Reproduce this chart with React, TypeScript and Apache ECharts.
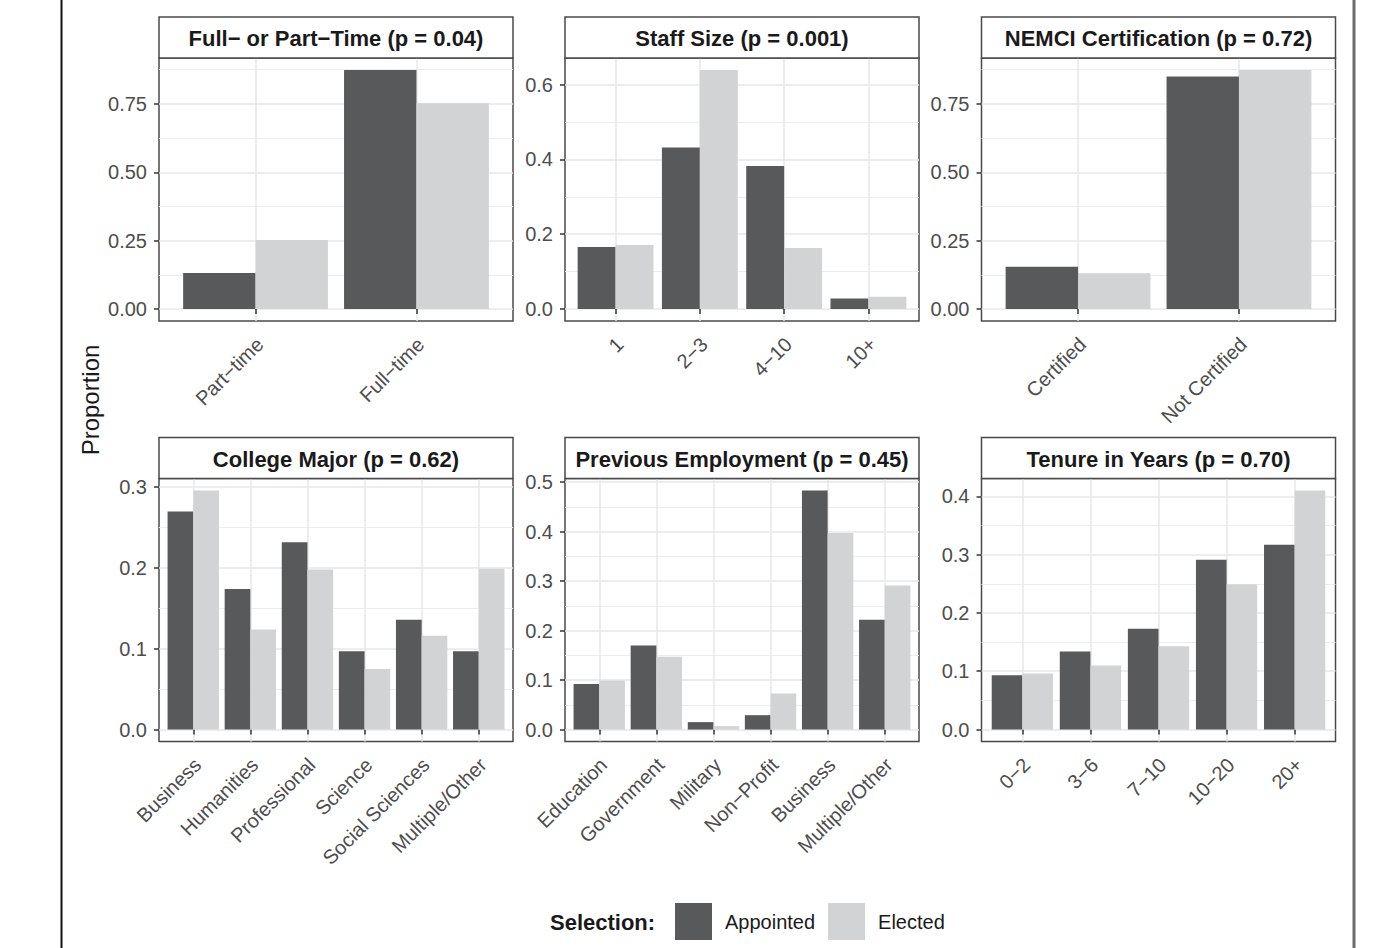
import React, { useEffect, useRef } from 'react';
import * as echarts from 'echarts';

const FONT = "'Liberation Sans', Arial, Helvetica, sans-serif";
const MINUS = '\u2212';

// ---- Full- or Part-Time ----
const fullPartTitle = `Full${MINUS} or Part${MINUS}Time (p = 0.04)`;
const fullPartCategories = [`Part${MINUS}time`, `Full${MINUS}time`];
const fullPartAppointed = [0.132, 0.874];
const fullPartElected = [0.252, 0.752];
const fullPartTicks = [0, 0.25, 0.5, 0.75];
const fullPartTickLabels = ['0.00', '0.25', '0.50', '0.75'];

// ---- Staff Size ----
const staffTitle = 'Staff Size (p = 0.001)';
const staffCategories = ['1', `2${MINUS}3`, `4${MINUS}10`, '10+'];
const staffAppointed = [0.166, 0.432, 0.382, 0.028];
const staffElected = [0.171, 0.639, 0.163, 0.033];
const staffTicks = [0, 0.2, 0.4, 0.6];
const staffTickLabels = ['0.0', '0.2', '0.4', '0.6'];

// ---- NEMCI Certification ----
const certTitle = 'NEMCI Certification (p = 0.72)';
const certCategories = ['Certified', 'Not Certified'];
const certAppointed = [0.155, 0.85];
const certElected = [0.131, 0.874];
const certTicks = [0, 0.25, 0.5, 0.75];
const certTickLabels = ['0.00', '0.25', '0.50', '0.75'];

// ---- College Major ----
const majorTitle = 'College Major (p = 0.62)';
const majorCategories = ['Business', 'Humanities', 'Professional', 'Science', 'Social Sciences', 'Multiple/Other'];
const majorAppointed = [0.27, 0.174, 0.232, 0.097, 0.136, 0.097];
const majorElected = [0.296, 0.124, 0.198, 0.075, 0.116, 0.199];
const majorTicks = [0, 0.1, 0.2, 0.3];
const majorTickLabels = ['0.0', '0.1', '0.2', '0.3'];

// ---- Previous Employment ----
const employTitle = 'Previous Employment (p = 0.45)';
const employCategories = ['Education', 'Government', 'Military', `Non${MINUS}Profit`, 'Business', 'Multiple/Other'];
const employAppointed = [0.092, 0.17, 0.015, 0.029, 0.483, 0.222];
const employElected = [0.099, 0.147, 0.007, 0.073, 0.397, 0.291];
const employTicks = [0, 0.1, 0.2, 0.3, 0.4, 0.5];
const employTickLabels = ['0.0', '0.1', '0.2', '0.3', '0.4', '0.5'];

// ---- Tenure in Years ----
const tenureTitle = 'Tenure in Years (p = 0.70)';
const tenureCategories = [`0${MINUS}2`, `3${MINUS}6`, `7${MINUS}10`, `10${MINUS}20`, '20+'];
const tenureAppointed = [0.093, 0.134, 0.173, 0.291, 0.317];
const tenureElected = [0.096, 0.11, 0.143, 0.249, 0.41];
const tenureTicks = [0, 0.1, 0.2, 0.3, 0.4];
const tenureTickLabels = ['0.0', '0.1', '0.2', '0.3', '0.4'];

const seriesNames = ['Appointed', 'Elected'];

const panels = [
  { title: fullPartTitle, categories: fullPartCategories, appointed: fullPartAppointed, elected: fullPartElected, ticks: fullPartTicks, tickLabels: fullPartTickLabels },
  { title: staffTitle, categories: staffCategories, appointed: staffAppointed, elected: staffElected, ticks: staffTicks, tickLabels: staffTickLabels },
  { title: certTitle, categories: certCategories, appointed: certAppointed, elected: certElected, ticks: certTicks, tickLabels: certTickLabels },
  { title: majorTitle, categories: majorCategories, appointed: majorAppointed, elected: majorElected, ticks: majorTicks, tickLabels: majorTickLabels },
  { title: employTitle, categories: employCategories, appointed: employAppointed, elected: employElected, ticks: employTicks, tickLabels: employTickLabels },
  { title: tenureTitle, categories: tenureCategories, appointed: tenureAppointed, elected: tenureElected, ticks: tenureTicks, tickLabels: tenureTickLabels },
];

// Facet layout (pixels)
const PANEL_LEFTS = [159, 565, 981.5];
const PANEL_W = 354;
const STRIP_TOPS = [17, 437.5];
const STRIP_H = 41;
const PLOT_BOTTOMS = [321, 741.5];

// Styles
const APPOINTED_COLOR = '#58595b';
const ELECTED_COLOR = '#d1d3d4';
const FRAME_COLOR = '#4a4a4a';
const GRID_MAJOR = '#e7e7e7';
const GRID_MINOR = '#eeeeee';
const AXIS_TEXT = '#4d4d4d';
const TITLE_TEXT = '#1a1a1a';

function buildOption() {
  const grids: any[] = [];
  const xAxes: any[] = [];
  const yAxes: any[] = [];
  const series: any[] = [];
  const graphics: any[] = [];

  panels.forEach((p, i) => {
    const col = i % 3;
    const row = Math.floor(i / 3);
    const left = PANEL_LEFTS[col];
    const top = STRIP_TOPS[row] + STRIP_H;
    const height = PLOT_BOTTOMS[row] - top;
    const n = p.categories.length;
    // discrete scale expanded by 0.6 of a category on each side
    const unit = PANEL_W / (n + 0.2);
    const peak = Math.max(...p.appointed, ...p.elected);
    const yMin = -0.05 * peak;
    const yMax = 1.05 * peak;
    const step = p.ticks[1] - p.ticks[0];
    const minorTicks: number[] = [];
    p.ticks.forEach((t) => {
      const v = t + step / 2;
      if (v < yMax) minorTicks.push(v);
    });

    const frameGrid = grids.length;
    grids.push({
      left, top, width: PANEL_W, height,
      show: true, backgroundColor: '#ffffff', borderColor: FRAME_COLOR, borderWidth: 1.5,
      containLabel: false, outerBoundsMode: 'none',
    });
    const dataGrid = grids.length;
    grids.push({
      left: left + 0.6 * unit, top, width: (n - 1) * unit, height,
      show: false, containLabel: false, outerBoundsMode: 'none',
    });

    xAxes.push({ gridIndex: frameGrid, type: 'value', min: 0, max: 1, show: false });
    const dataX = xAxes.length;
    xAxes.push({
      gridIndex: dataGrid,
      type: 'category',
      data: p.categories,
      boundaryGap: false,
      axisLine: { show: false },
      axisTick: { show: true, length: 5, lineStyle: { color: '#333333', width: 1.5 } },
      axisLabel: {
        interval: 0, rotate: 45, align: 'right', verticalAlign: 'top',
        padding: [0, 4, 0, 0], margin: 10,
        fontSize: 20, color: AXIS_TEXT, fontFamily: FONT,
      },
      splitLine: { show: true, lineStyle: { color: GRID_MAJOR, width: 1.5 } },
    });

    const labelFor = (v: number) => {
      const k = p.ticks.findIndex((t) => Math.abs(t - v) < 1e-9);
      return k >= 0 ? p.tickLabels[k] : '';
    };
    yAxes.push({
      gridIndex: frameGrid, type: 'value', min: yMin, max: yMax, position: 'left',
      axisLine: { show: false },
      axisTick: { show: true, length: 5, customValues: p.ticks, lineStyle: { color: '#333333', width: 1.5 } },
      axisLabel: { customValues: p.ticks, formatter: labelFor, margin: 12, fontSize: 20, color: AXIS_TEXT, fontFamily: FONT },
      splitLine: { show: true, lineStyle: { color: GRID_MAJOR, width: 1.5 } },
    });
    yAxes.push({
      gridIndex: frameGrid, type: 'value', min: yMin, max: yMax, position: 'left',
      axisLine: { show: false },
      axisTick: { show: false, customValues: minorTicks },
      axisLabel: { show: false, customValues: minorTicks },
      splitLine: { show: true, lineStyle: { color: GRID_MINOR, width: 1 } },
    });
    const dataY = yAxes.length;
    yAxes.push({ gridIndex: dataGrid, type: 'value', min: yMin, max: yMax, show: false });

    series.push({
      type: 'bar', name: seriesNames[0], xAxisIndex: dataX, yAxisIndex: dataY,
      data: p.appointed, itemStyle: { color: APPOINTED_COLOR },
      barGap: '0%', barCategoryGap: '10%', clip: false,
    });
    series.push({
      type: 'bar', name: seriesNames[1], xAxisIndex: dataX, yAxisIndex: dataY,
      data: p.elected, itemStyle: { color: ELECTED_COLOR },
      barGap: '0%', barCategoryGap: '10%', clip: false,
    });

    // facet strip
    graphics.push({
      type: 'rect',
      shape: { x: left, y: STRIP_TOPS[row], width: PANEL_W, height: STRIP_H },
      style: { fill: '#ffffff', stroke: FRAME_COLOR, lineWidth: 1.5 },
      z: 10,
    });
    graphics.push({
      type: 'text',
      x: left + PANEL_W / 2,
      y: STRIP_TOPS[row] + STRIP_H / 2 + 1,
      style: {
        text: p.title, fill: TITLE_TEXT, align: 'center', verticalAlign: 'middle',
        font: `bold 22px ${FONT}`,
      },
      z: 11,
    });
  });

  // shared y-axis title
  graphics.push({
    type: 'text', x: 90, y: 400, rotation: Math.PI / 2,
    style: { text: 'Proportion', fill: TITLE_TEXT, align: 'center', verticalAlign: 'middle', font: `24px ${FONT}` },
  });
  // legend title
  graphics.push({
    type: 'text', x: 550, y: 922,
    style: { text: 'Selection:', fill: TITLE_TEXT, align: 'left', verticalAlign: 'middle', font: `bold 22px ${FONT}` },
  });
  // page frame lines
  graphics.push({ type: 'line', shape: { x1: 61.5, y1: 0, x2: 61.5, y2: 948 }, style: { stroke: '#111111', lineWidth: 2 } });
  graphics.push({ type: 'line', shape: { x1: 1354, y1: 0, x2: 1354, y2: 948 }, style: { stroke: '#6b6b6b', lineWidth: 3 } });

  return {
    animation: false,
    backgroundColor: '#ffffff',
    textStyle: { fontFamily: FONT },
    grid: grids,
    xAxis: xAxes,
    yAxis: yAxes,
    series,
    legend: {
      data: seriesNames,
      left: 675, top: 903, orient: 'horizontal',
      itemWidth: 37, itemHeight: 37, itemGap: 13, icon: 'rect', padding: 0,
      selectedMode: false,
      textStyle: { fontSize: 20, color: TITLE_TEXT, fontFamily: FONT, padding: [0, 0, 0, 8] },
    },
    graphic: graphics,
  };
}

export default function App() {
  const ref = useRef<HTMLDivElement>(null);
  useEffect(() => {
    if (!ref.current) return;
    const chart = echarts.init(ref.current, null, { renderer: 'svg' });
    chart.setOption(buildOption() as any);
    return () => chart.dispose();
  }, []);
  return <div ref={ref} style={{ position: 'fixed', left: 0, top: 0, width: 1400, height: 948 }} />;
}
